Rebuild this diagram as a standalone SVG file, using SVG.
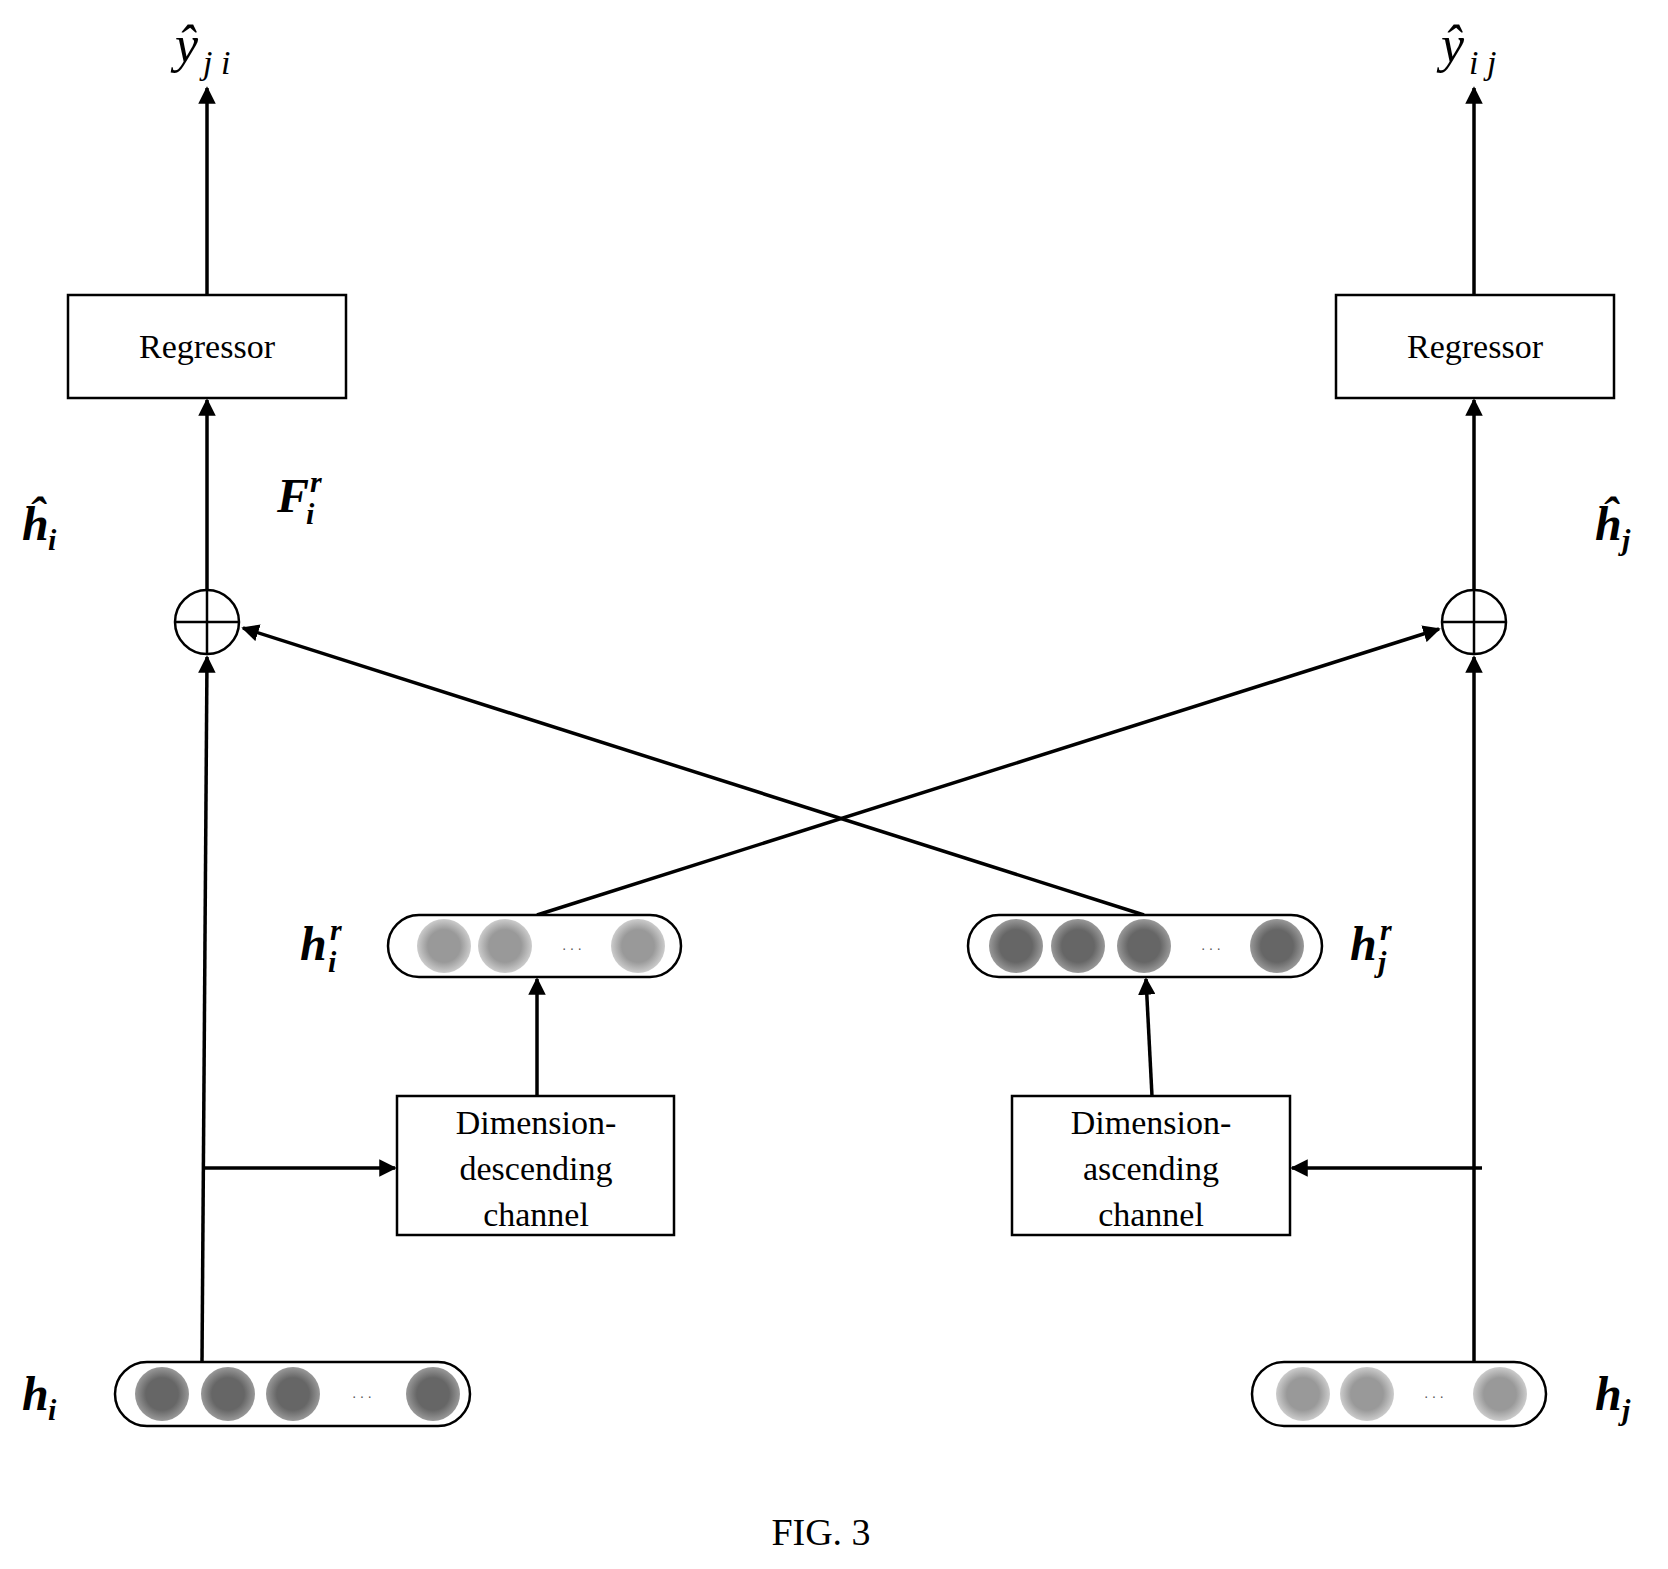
<svg xmlns="http://www.w3.org/2000/svg" width="1668" height="1569" viewBox="0 0 1668 1569">
<style>
.box{fill:#fff;stroke:#000;stroke-width:2.5}
.pill{fill:#fff;stroke:#000;stroke-width:2.5}
.t{font-family:"Liberation Serif",serif;font-size:34px;text-anchor:middle}
.m{font-family:"Liberation Serif",serif;font-size:48px;font-weight:bold;font-style:italic}
.s{font-family:"Liberation Serif",serif;font-size:30px;font-weight:bold;font-style:italic}
.y{font-family:"Liberation Serif",serif;font-size:52px;font-style:italic}
.ys{font-family:"Liberation Serif",serif;font-size:34px;font-style:italic}
.ln{stroke:#000;stroke-width:3.5;fill:none}
.dots{font-family:"Liberation Sans",sans-serif;font-size:14px;fill:#555;text-anchor:middle}
</style>
<defs>
<marker id="a" viewBox="0 0 10 10" refX="9" refY="5" markerWidth="5" markerHeight="5" orient="auto"><path d="M0,0L10,5L0,10z" fill="#000"/></marker>
<radialGradient id="lg"><stop offset="0.6" stop-color="#999"/><stop offset="1" stop-color="#ccc"/></radialGradient>
<radialGradient id="dg"><stop offset="0.6" stop-color="#666"/><stop offset="1" stop-color="#999"/></radialGradient>
</defs>
<rect width="1668" height="1569" fill="#fff"/>
<g id="connectors">
<line class="ln" x1="207" y1="295" x2="207" y2="88" marker-end="url(#a)"/>
<line class="ln" x1="1474" y1="295" x2="1474" y2="88" marker-end="url(#a)"/>
<line class="ln" x1="207" y1="589" x2="207" y2="400" marker-end="url(#a)"/>
<line class="ln" x1="1474" y1="589" x2="1474" y2="400" marker-end="url(#a)"/>
<line class="ln" x1="202" y1="1362" x2="207" y2="657" marker-end="url(#a)"/>
<line class="ln" x1="1474" y1="1362" x2="1474" y2="657" marker-end="url(#a)"/>
<line class="ln" x1="204" y1="1168" x2="395" y2="1168" marker-end="url(#a)"/>
<line class="ln" x1="1482" y1="1168" x2="1292" y2="1168" marker-end="url(#a)"/>
<line class="ln" x1="537" y1="1096" x2="537" y2="979" marker-end="url(#a)"/>
<line class="ln" x1="1152" y1="1096" x2="1146" y2="979" marker-end="url(#a)"/>
<line class="ln" x1="537" y1="915" x2="1439" y2="629" marker-end="url(#a)"/>
<line class="ln" x1="1144" y1="915" x2="243" y2="628" marker-end="url(#a)"/>
</g>
<g id="yji"><text class="y" x="175" y="62">ŷ</text><text class="ys" x="203" y="74">j i</text></g>
<g id="yij"><text class="y" x="1441" y="62">ŷ</text><text class="ys" x="1469" y="74">i j</text></g>
<g id="regL"><rect class="box" x="68" y="295" width="278" height="103"/><text class="t" x="207" y="358">Regressor</text></g>
<g id="regR"><rect class="box" x="1336" y="295" width="278" height="103"/><text class="t" x="1475" y="358">Regressor</text></g>
<g id="sumL"><circle cx="207" cy="622" r="32" fill="#fff" stroke="#000" stroke-width="2.5"/><path d="M175,622H239M207,590V654" stroke="#000" stroke-width="2.5"/></g>
<g id="sumR"><circle cx="1474" cy="622" r="32" fill="#fff" stroke="#000" stroke-width="2.5"/><path d="M1442,622H1506M1474,590V654" stroke="#000" stroke-width="2.5"/></g>
<g id="hhatI"><text class="m" x="22" y="540">ĥ</text><text class="s" x="48" y="550">i</text></g>
<g id="Fir"><text class="m" x="277" y="512">F</text><text class="s" x="310" y="492">r</text><text class="s" x="306" y="524">i</text></g>
<g id="hhatJ"><text class="m" x="1595" y="540">ĥ</text><text class="s" x="1622" y="550">j</text></g>
<g id="hir">
<rect class="pill" x="388" y="915" width="293" height="62" rx="31"/>
<circle cx="444" cy="946" r="27" fill="url(#lg)"/><circle cx="505" cy="946" r="27" fill="url(#lg)"/><circle cx="638" cy="946" r="27" fill="url(#lg)"/>
<text class="dots" x="572" y="950">. . .</text>
<text class="m" x="300" y="960">h</text><text class="s" x="330" y="940">r</text><text class="s" x="328" y="972">i</text>
</g>
<g id="hjr">
<rect class="pill" x="968" y="915" width="354" height="62" rx="31"/>
<circle cx="1016" cy="946" r="27" fill="url(#dg)"/><circle cx="1078" cy="946" r="27" fill="url(#dg)"/><circle cx="1144" cy="946" r="27" fill="url(#dg)"/><circle cx="1277" cy="946" r="27" fill="url(#dg)"/>
<text class="dots" x="1211" y="950">. . .</text>
<text class="m" x="1350" y="960">h</text><text class="s" x="1380" y="940">r</text><text class="s" x="1378" y="972">j</text>
</g>
<g id="desc"><rect class="box" x="397" y="1096" width="277" height="139"/>
<text class="t" x="536" y="1134">Dimension-</text><text class="t" x="536" y="1180">descending</text><text class="t" x="536" y="1226">channel</text></g>
<g id="asc"><rect class="box" x="1012" y="1096" width="278" height="139"/>
<text class="t" x="1151" y="1134">Dimension-</text><text class="t" x="1151" y="1180">ascending</text><text class="t" x="1151" y="1226">channel</text></g>
<g id="hi">
<rect class="pill" x="115" y="1362" width="355" height="64" rx="32"/>
<circle cx="162" cy="1394" r="27" fill="url(#dg)"/><circle cx="228" cy="1394" r="27" fill="url(#dg)"/><circle cx="293" cy="1394" r="27" fill="url(#dg)"/><circle cx="433" cy="1394" r="27" fill="url(#dg)"/>
<text class="dots" x="362" y="1398">. . .</text>
<text class="m" x="22" y="1410">h</text><text class="s" x="48" y="1420">i</text>
</g>
<g id="hj">
<rect class="pill" x="1252" y="1362" width="294" height="64" rx="32"/>
<circle cx="1303" cy="1394" r="27" fill="url(#lg)"/><circle cx="1367" cy="1394" r="27" fill="url(#lg)"/><circle cx="1500" cy="1394" r="27" fill="url(#lg)"/>
<text class="dots" x="1434" y="1398">. . .</text>
<text class="m" x="1595" y="1410">h</text><text class="s" x="1622" y="1420">j</text>
</g>
<g id="fig"><text class="t" x="821" y="1545" style="font-size:38px">FIG. 3</text></g>
</svg>
